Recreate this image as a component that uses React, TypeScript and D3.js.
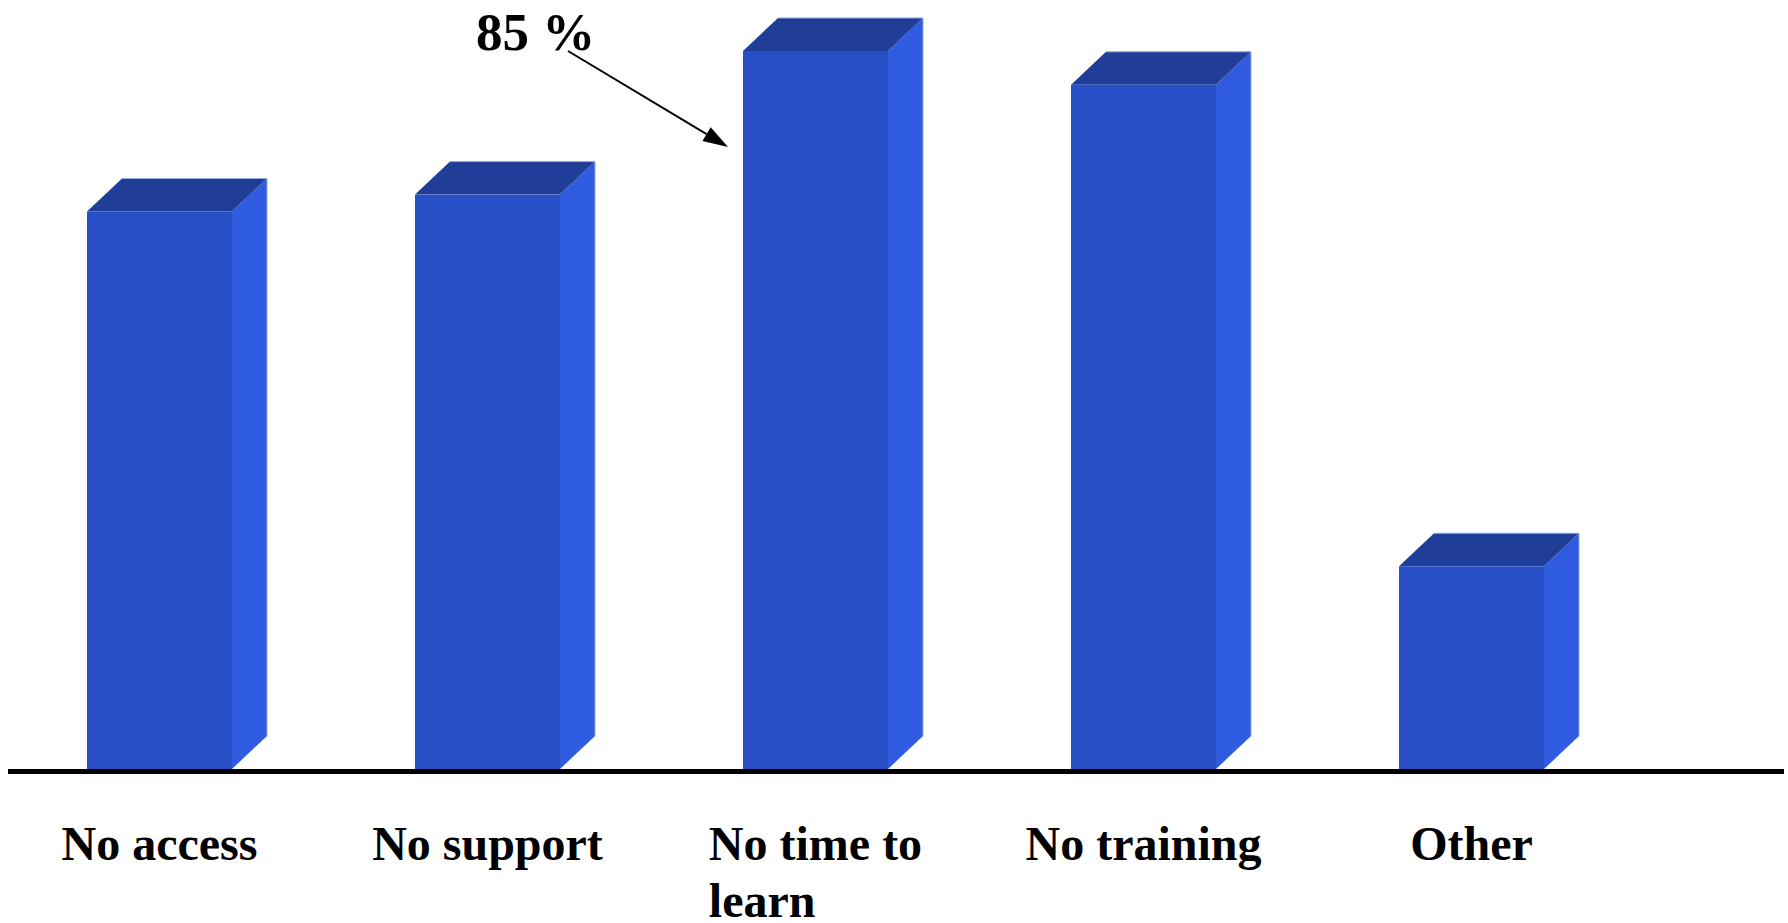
import React, { useEffect, useRef } from "react";
import * as d3 from "d3";

const categories: string[][] = [
  ["No access"],
  ["No support"],
  ["No time to", "learn"],
  ["No training"],
  ["Other"],
];
const values: number[] = [66, 68, 85, 81, 24];
const annotationValue = 85;
const annotationIndex = 2;

const W = 1788;
const H = 923;

const FRONT = "#2850c6";
const SIDE = "#2e5be0";
const TOP = "#203e98";
const EDGE = "#8fa8e8";

export default function App() {
  const ref = useRef<SVGSVGElement | null>(null);

  useEffect(() => {
    const svg = d3.select(ref.current);
    svg.selectAll("*").remove();

    const baseY = 769;
    const depthX = 35;
    const depthY = 33;

    const x = d3
      .scaleBand<number>()
      .domain(values.map((_, i) => i))
      .range([87, 1544])
      .paddingInner(0.558)
      .paddingOuter(0);

    const y = d3.scaleLinear().domain([0, 85]).range([baseY, 51]);

    const bw = x.bandwidth();

    const g = svg.append("g");

    values.forEach((v, i) => {
      const x0 = x(i)!;
      const x1 = x0 + bw;
      const yt = y(v);
      // side face
      g.append("path")
        .attr(
          "d",
          `M${x1},${yt} L${x1 + depthX},${yt - depthY} L${x1 + depthX},${baseY - depthY} L${x1},${baseY} Z`
        )
        .attr("fill", SIDE);
      // top face
      g.append("path")
        .attr(
          "d",
          `M${x0},${yt} L${x0 + depthX},${yt - depthY} L${x1 + depthX},${yt - depthY} L${x1},${yt} Z`
        )
        .attr("fill", TOP);
      // front face
      g.append("rect")
        .attr("x", x0)
        .attr("y", yt)
        .attr("width", bw)
        .attr("height", baseY - yt)
        .attr("fill", FRONT);
      // light edges
      g.append("path")
        .attr(
          "d",
          `M${x0 + depthX},${yt - depthY} L${x1 + depthX},${yt - depthY} L${x1 + depthX},${baseY - depthY}`
        )
        .attr("fill", "none")
        .attr("stroke", EDGE)
        .attr("stroke-width", 1);
    });

    // axis baseline
    svg
      .append("line")
      .attr("x1", 8)
      .attr("x2", 1784)
      .attr("y1", baseY + 2.5)
      .attr("y2", baseY + 2.5)
      .attr("stroke", "#000")
      .attr("stroke-width", 5);

    // category labels
    const font = "'Liberation Serif', 'Times New Roman', serif";
    categories.forEach((lines, i) => {
      const cx = x(i)! + bw / 2;
      const t = svg
        .append("text")
        .attr("font-family", font)
        .attr("font-weight", "bold")
        .attr("font-size", 48)
        .attr("fill", "#000");
      const spans = lines.map((ln, j) =>
        t
          .append("tspan")
          .attr("y", 860 + j * 57)
          .text(ln)
      );
      let maxW = 0;
      spans.forEach((s) => {
        const n = s.node() as SVGTSpanElement;
        maxW = Math.max(maxW, n.getComputedTextLength());
      });
      spans.forEach((s) => s.attr("x", cx - maxW / 2));
    });

    // annotation
    const ax = x(annotationIndex)!;
    const tipX = ax - 15;
    const tipY = y(annotationValue) + 96;
    const startX = tipX - 160;
    const startY = tipY - 96;

    svg
      .append("text")
      .attr("x", startX - 92)
      .attr("y", startY - 1)
      .attr("font-family", font)
      .attr("font-weight", "bold")
      .attr("font-size", 53)
      .attr("fill", "#000")
      .text(`${annotationValue} %`);

    const ang = Math.atan2(tipY - startY, tipX - startX);
    const headLen = 25;
    const headW = 8;
    const bx = tipX - headLen * Math.cos(ang);
    const by = tipY - headLen * Math.sin(ang);
    svg
      .append("line")
      .attr("x1", startX)
      .attr("y1", startY)
      .attr("x2", bx)
      .attr("y2", by)
      .attr("stroke", "#000")
      .attr("stroke-width", 2);
    const px = -Math.sin(ang) * headW;
    const py = Math.cos(ang) * headW;
    svg
      .append("path")
      .attr(
        "d",
        `M${tipX},${tipY} L${bx + px},${by + py} L${bx - px},${by - py} Z`
      )
      .attr("fill", "#000");
  }, []);

  return (
    <svg
      ref={ref}
      width={W}
      height={H}
      style={{ position: "absolute", left: 0, top: 0, display: "block", background: "#fff" }}
    />
  );
}
